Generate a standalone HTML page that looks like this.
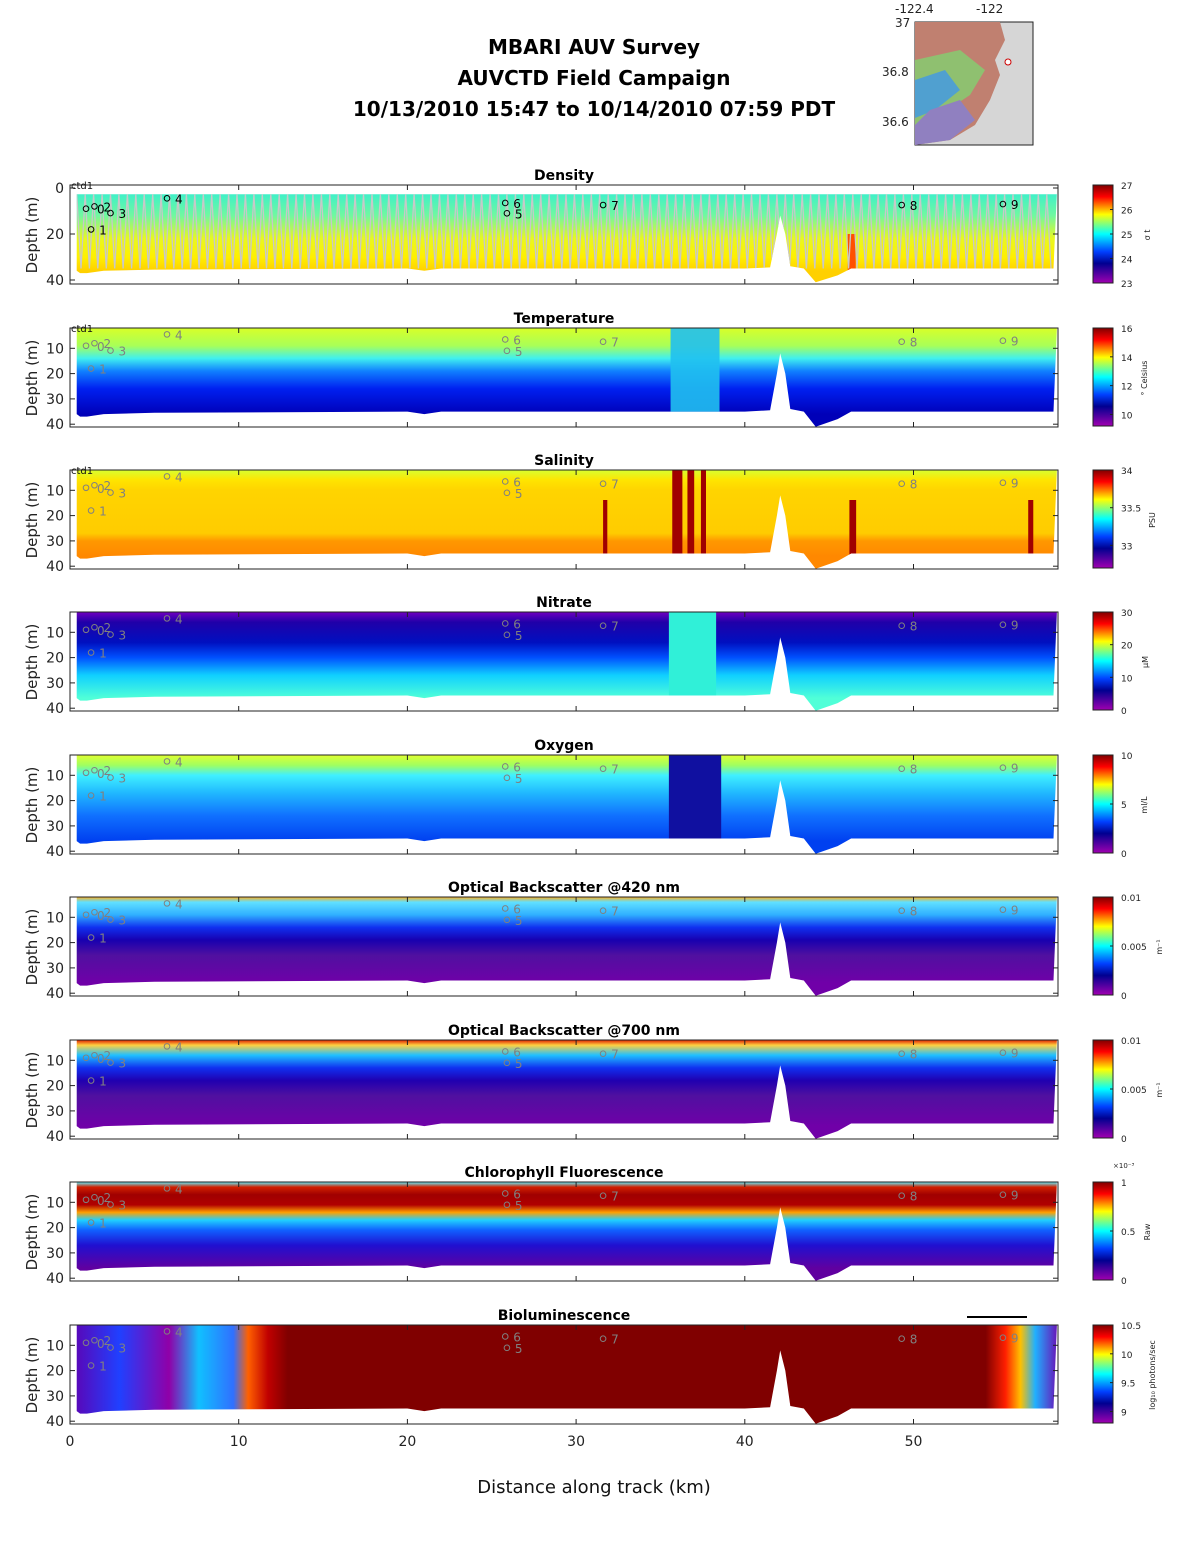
<!DOCTYPE html>
<html><head><meta charset="utf-8">
<style>
body{margin:0;background:#fff;font-family:"Liberation Sans","DejaVu Sans",sans-serif}
svg text{font-family:"DejaVu Sans","Liberation Sans",sans-serif}
</style></head>
<body>
<svg id="fig" width="1188" height="1548" viewBox="0 0 1188 1548" xmlns="http://www.w3.org/2000/svg">
<g font-weight="bold" font-size="20" text-anchor="middle" fill="#000">
<text x="594" y="54">MBARI AUV Survey</text>
<text x="594" y="85">AUVCTD Field Campaign</text>
<text x="594" y="116">10/13/2010 15:47  to 10/14/2010 07:59 PDT</text>
</g>
<g>
<rect x="915" y="22" width="118" height="123" fill="#d6d6d6" stroke="#222"/>
<path d="M915,22 L1000,22 L1005,40 L995,60 L1000,75 L990,100 L975,125 L950,140 L915,145 Z" fill="#c08070"/>
<path d="M915,60 L960,50 L985,70 L970,95 L940,115 L915,130 Z" fill="#8fc070"/>
<path d="M915,80 L945,70 L960,90 L935,110 L915,118 Z" fill="#50a0d0"/>
<path d="M930,110 L960,100 L975,120 L950,140 L915,145 L915,125 Z" fill="#9080c0"/>
<circle cx="1008" cy="62" r="3" fill="#fff" stroke="#c00"/>
<text x="895" y="13" font-size="12" fill="#222">-122.4</text>
<text x="976" y="13" font-size="12" fill="#222">-122</text>
<text x="895" y="27" font-size="12" fill="#222">37</text>
<text x="882" y="76" font-size="12" fill="#222">36.8</text>
<text x="882" y="126" font-size="12" fill="#222">36.6</text>
</g>
<g id="panels"></g>
<text x="594" y="1493" font-size="18" text-anchor="middle" fill="#111">Distance along track (km)</text>
</svg>
<script>
const NS='http://www.w3.org/2000/svg';
const xTicks=[0,10,20,30,40,50];
const bottomDist=[0.4,0.6,1.0,2.0,5.0,20.0,21.0,22.0,40.0,41.5,41.9,42.1,42.4,42.7,43.5,44.2,45.5,46.3,58.3,58.5];
const bottomDepth=[36,37,37,36,35.5,35,36,35,35,34.5,20,12,20,34,35,41,38,35,35,2];
const stationDist=[0.95,1.25,1.45,2.4,5.75,25.9,25.8,31.6,49.3,55.3];
const stationDepth=[9,18,8,10.9,4.5,11,6.5,7.4,7.4,7];
const stationLabel=['0','1','2','3','4','5','6','7','8','9'];
const panelTitles=['Density','Temperature','Salinity','Nitrate','Oxygen','Optical Backscatter @420 nm','Optical Backscatter @700 nm','Chlorophyll Fluorescence','Bioluminescence'];
const panelUnits=['σ t','° Celsius','PSU','μM','ml/L','m⁻¹','m⁻¹','Raw','log₁₀ photons/sec'];
const cbTicks=[[27,26,25,24,23],[16,14,12,10],[34,33.5,33],[30,20,10,0],[10,5,0],[0.01,0.005,0],[0.01,0.005,0],[1,0.5,0],[10.5,10,9.5,9]];
const cbMax=[27,16,34,30,10,0.01,0.01,1,10.5];
const cbMin=[23,9.2,32.7,0,0,0,0,0,8.8];
const tops=[185,328,470,612,755,897,1040,1182,1325];
const unitX=[1150,1147,1155,1148,1147,1162,1162,1150,1155];
const X0=70,KM=16.87;
const xs=d=>X0+d*KM;
function mk(t,a,p){const e=document.createElementNS(NS,t);for(const k in a)e.setAttribute(k,a[k]);(p||document.getElementById('panels')).appendChild(e);return e;}
const grads=[
 [[2,'#40f0c8'],[12,'#70f8a0'],[22,'#e8f820'],[30,'#fff000'],[36,'#ffd000']],
 [[2,'#d8ff28'],[9,'#a8ff58'],[14,'#40f0f0'],[19,'#1080ff'],[26,'#0020f0'],[36,'#0000b8']],
 [[2,'#d8ff30'],[6,'#ffe400'],[10,'#ffd400'],[27,'#ffcc00'],[30,'#ff9800'],[36,'#ff8800']],
 [[2,'#7000c0'],[6,'#2000a8'],[14,'#0010c0'],[20,'#0050ff'],[27,'#10d0ff'],[36,'#50ffd8']],
 [[2,'#e0ff30'],[6,'#a0ff60'],[10,'#40f0ff'],[17,'#20b8ff'],[26,'#1070ff'],[36,'#0040f0']],
 [[2,'#ffb020'],[4,'#60e0ff'],[9,'#30b0ff'],[14,'#1030f0'],[19,'#1800b0'],[25,'#5010a0'],[36,'#7000a8']],
 [[2,'#e02000'],[4,'#ffd040'],[8,'#20c0ff'],[13,'#1030f0'],[18,'#2000b0'],[24,'#5010a0'],[36,'#7000a8']],
 [[2,'#60f0ff'],[4,'#d02000'],[7,'#a00000'],[11,'#b00000'],[14,'#ffa000'],[17,'#20d0ff'],[21,'#1060ff'],[27,'#2010d0'],[36,'#6000a0']],
 null
];
const cbStops=[[0,'#800000'],[0.12,'#ff0000'],[0.3,'#ffff00'],[0.5,'#00ffff'],[0.68,'#0040ff'],[0.8,'#000090'],[1,'#a000b0']];
const defs=mk('defs',{});
function linGrad(id,stops,vert){const g=mk('linearGradient',{id:id,x1:0,y1:0,x2:vert?0:1,y2:vert?1:0},defs);stops.forEach(s=>mk('stop',{offset:s[0],'stop-color':s[1]},g));return g;}
linGrad('cbg',cbStops,true);
linGrad('bioH',[[0,'#6000b0'],[0.05,'#2040ff'],[0.1,'#9000a8'],[0.13,'#10c0ff'],[0.165,'#3070ff'],[0.18,'#ff6000'],[0.2,'#c00000'],[0.22,'#800000'],[0.925,'#800000'],[0.945,'#ff2000'],[0.96,'#ffc000'],[0.975,'#20b0ff'],[1,'#7000b0']],false);
linGrad('lineG',[[0,'#ffffff'],[1,'#000000']],false);
tops.forEach((top,i)=>{
 const dens=i===0;
 const ys=d=>dens?top+3+d*2.3:top-5+d*2.53;
 const dTop=dens?2.7:2;
 const g=mk('g',{});
 
 
 const gid='pg'+i;
 if(grads[i]){const lg=mk('linearGradient',{id:gid,gradientUnits:'userSpaceOnUse',x1:0,y1:ys(dTop),x2:0,y2:ys(36)},defs);
  grads[i].forEach(s=>mk('stop',{offset:((s[0]-dTop)/(36-dTop)).toFixed(3),'stop-color':s[1]},lg));}
 let pts=xs(bottomDist[0])+','+ys(dTop)+' '+xs(bottomDist[bottomDist.length-1])+','+ys(dTop);
 for(let k=bottomDist.length-1;k>=0;k--)pts+=' '+xs(bottomDist[k]).toFixed(1)+','+ys(bottomDepth[k]).toFixed(1);
 const cp=mk('clipPath',{id:'cp'+i},defs);mk('polygon',{points:pts},cp);
 const fg=mk('g',{'clip-path':'url(#cp'+i+')'},g);
 
 
 mk('rect',{x:X0,y:top,width:990,height:100,fill:grads[i]?'url(#'+gid+')':'url(#bioH)'},fg);
 if(i===1)mk('rect',{x:xs(35.6),y:top,width:xs(38.5)-xs(35.6),height:100,fill:'#20c0f0',opacity:0.9},fg);
 if(i===2){[[35.7,0.6],[36.6,0.4],[37.4,0.3],[31.6,0.25],[46.2,0.4],[56.8,0.3]].forEach(a=>mk('rect',{x:xs(a[0]),y:top+(a[0]>40||a[0]<35?30:0),width:a[1]*KM,height:100,fill:'#a00000'},fg));}
 if(i===3)mk('rect',{x:xs(35.5),y:top,width:xs(38.3)-xs(35.5),height:100,fill:'#30f0d8'},fg);
 if(i===4)mk('rect',{x:xs(35.5),y:top,width:xs(38.6)-xs(35.5),height:100,fill:'#1010a0'},fg);
 if(i===0){mk('rect',{x:xs(46.1),y:ys(20),width:8,height:40,fill:'#ff5000'},fg);
  let z='';for(let d=0.4;d<58.3;d+=0.25){const up=Math.round(d*4)%2===0;z+=xs(d).toFixed(1)+','+ys(up?2.7:35)+' ';}
  mk('polyline',{points:z,fill:'none',stroke:'#c8c8c8','stroke-width':1.3},fg);}
 mk('rect',{x:X0,y:top,width:988,height:99,fill:'none',stroke:'#222','stroke-width':1},g);
 const tt=mk('text',{x:564,y:top-5,'font-size':14,'font-weight':'bold','text-anchor':'middle',fill:'#000'},g);tt.textContent=panelTitles[i];
 
 const yt=dens?[0,20,40]:[10,20,30,40];
 yt.forEach(v=>{const y=ys(v);mk('line',{x1:X0,x2:X0+5,y1:y,y2:y,stroke:'#222'},g);mk('line',{x1:1058,x2:1053,y1:y,y2:y,stroke:'#222'},g);
  const t=mk('text',{x:X0-6,y:y+5,'font-size':14,'text-anchor':'end',fill:'#222'},g);t.textContent=v;});
 const yl=mk('text',{x:37,y:top+50,'font-size':15,'text-anchor':'middle',fill:'#222',transform:'rotate(-90 37 '+(top+50)+')'},g);yl.textContent='Depth (m)';
 
 xTicks.forEach(v=>{const x=xs(v);mk('line',{x1:x,x2:x,y1:top,y2:top+5,stroke:'#222'},g);mk('line',{x1:x,x2:x,y1:top+99,y2:top+94,stroke:'#222'},g);
  if(i===8){const t=mk('text',{x:x,y:top+121,'font-size':14,'text-anchor':'middle',fill:'#222'},g);t.textContent=v;}});
 if(i<3){const c=mk('text',{x:71,y:top+4,'font-size':10,fill:'#111'},g);c.textContent='ctd1';}
 stationDist.forEach((d,k)=>{
  const col=dens?'#000':'#808080';
  const m=mk('circle',{cx:xs(d),cy:ys(stationDepth[k]),r:2.8,fill:'none',stroke:col,'stroke-width':1},g);
  
  
  const off=k===0?11:(k===2?9:8);
  const t=mk('text',{x:xs(d)+off,y:ys(stationDepth[k])+5,'font-size':12,fill:col},g);t.textContent=stationLabel[k];});
 const cb=mk('g',{},g);
 
 
 mk('rect',{x:1093,y:top,width:20,height:98,fill:'url(#cbg)',stroke:'#222'},cb);
 cbTicks[i].forEach(v=>{const y=top+(cbMax[i]-v)/(cbMax[i]-cbMin[i])*98;
  mk('line',{x1:1113,x2:1110,y1:y,y2:y,stroke:'#222'},cb);
  const t=mk('text',{x:1121,y:y+4,'font-size':9,fill:'#222'},cb);t.textContent=v;});
 const ux=unitX[i];
 const u=mk('text',{x:ux,y:top+50,'font-size':8,'text-anchor':'middle',fill:'#222',transform:'rotate(-90 '+ux+' '+(top+50)+')'},cb);u.textContent=panelUnits[i];
 if(i===7){const t=mk('text',{x:1113,y:top-14,'font-size':7,fill:'#222'},cb);t.textContent='×10⁻³';}
 if(i===8){mk('line',{x1:100,x2:233,y1:top-8,y2:top-8,stroke:'url(#lineG)','stroke-width':2},g);mk('line',{x1:967,x2:1027,y1:top-8,y2:top-8,stroke:'#000','stroke-width':2},g);}
});
</script>
</body></html>
